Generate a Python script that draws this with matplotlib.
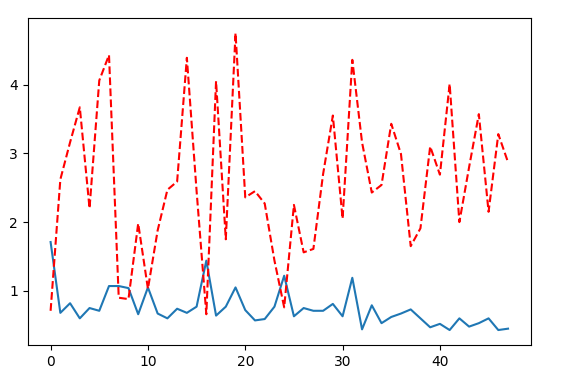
import numpy as np
import matplotlib
matplotlib.use("Agg")
import matplotlib.pyplot as plt

# values
steps = np.arange(48)
actual = [1.71, 0.68, 0.82, 0.60, 0.75, 0.71, 1.07, 1.07, 1.04, 0.66,
          1.05, 0.67, 0.60, 0.74, 0.68, 0.77, 1.44, 0.64, 0.77, 1.05,
          0.72, 0.57, 0.59, 0.77, 1.22, 0.63, 0.75, 0.71, 0.71, 0.81,
          0.63, 1.19, 0.44, 0.79, 0.53, 0.62, 0.67, 0.73, 0.60, 0.47,
          0.52, 0.43, 0.60, 0.48, 0.53, 0.60, 0.43, 0.45]
predicted = [0.71, 2.62, 3.16, 3.67, 2.20, 4.06, 4.43, 0.90, 0.88, 1.98,
             1.03, 1.88, 2.47, 2.59, 4.39, 2.45, 0.66, 4.05, 1.75, 4.75,
             2.36, 2.45, 2.27, 1.44, 0.76, 2.25, 1.56, 1.61, 2.70, 3.55,
             2.05, 4.36, 3.16, 2.43, 2.54, 3.43, 2.99, 1.65, 1.91, 3.10,
             2.69, 4.01, 2.00, 2.80, 3.57, 2.15, 3.28, 2.87]

fig, ax = plt.subplots(figsize=(5.66, 3.79), dpi=100)
fig.subplots_adjust(left=0.049, right=0.938, top=0.952, bottom=0.09)

ax.plot(steps, actual)
ax.plot(steps, predicted, 'r--')

ax.set_xticks([0, 10, 20, 30, 40])
ax.set_yticks([1, 2, 3, 4])

fig.savefig("out.png", dpi=100)
